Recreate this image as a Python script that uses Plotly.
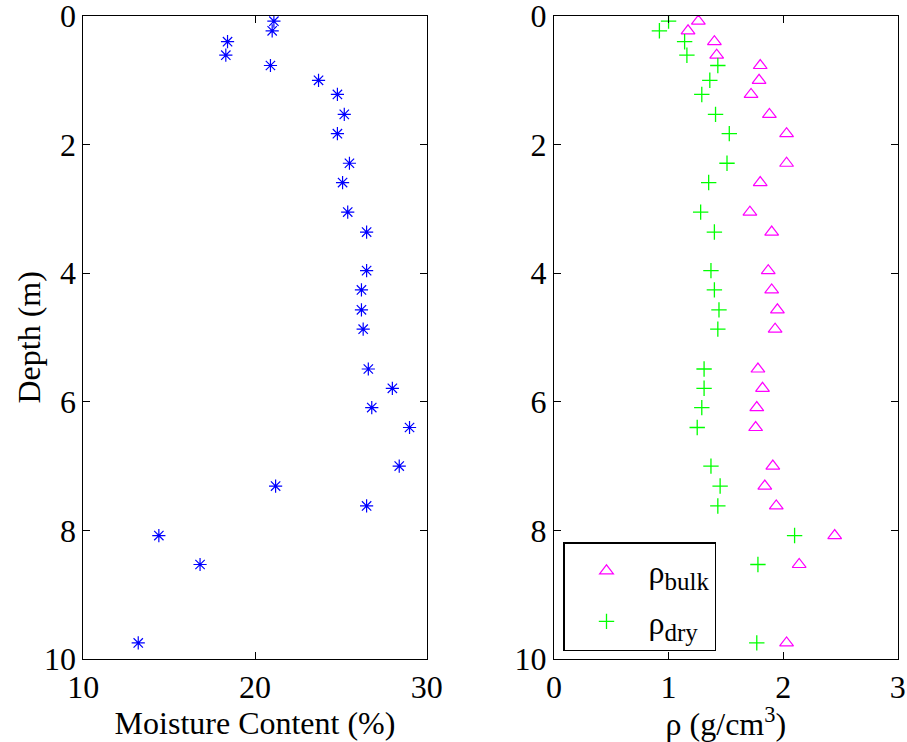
import plotly.graph_objects as go

# Sample depths (m)
depth = [0.08, 0.23, 0.40, 0.61, 0.77, 1.00, 1.22, 1.53, 1.83, 2.29, 2.59, 3.05,
         3.36, 3.96, 4.26, 4.57, 4.87, 5.49, 5.79, 6.09, 6.40, 7.00, 7.31, 7.62,
         8.08, 8.53, 9.75]

# Gravimetric moisture content (%)
moisture = [21.1, 21.0, 18.4, 18.3, 20.9, 23.7, 24.8, 25.2, 24.8, 25.5, 25.1, 25.4,
            26.5, 26.5, 26.2, 26.2, 26.3, 26.6, 28.0, 26.8, 29.0, 28.4, 21.2, 26.5,
            14.4, 16.8, 13.2]

# Bulk and dry densities (g/cm^3)
rho_bulk = [1.26, 1.17, 1.40, 1.42, 1.80, 1.79, 1.72, 1.88, 2.03, 2.03, 1.80, 1.71,
            1.90, 1.87, 1.90, 1.95, 1.93, 1.78, 1.82, 1.77, 1.76, 1.91, 1.84, 1.94,
            2.45, 2.14, 2.03]
rho_dry = [1.00, 0.92, 1.14, 1.16, 1.43, 1.36, 1.29, 1.41, 1.53, 1.51, 1.35, 1.28,
           1.40, 1.37, 1.40, 1.44, 1.43, 1.31, 1.31, 1.29, 1.25, 1.37, 1.45, 1.43,
           2.10, 1.78, 1.77]

FONT = "Liberation Serif"
FS = 32
SUB = "<sub><span style='font-size:25px'>{}</span></sub>"

fig = go.Figure()

fig.add_trace(go.Scatter(
    x=moisture, y=depth, mode="markers", showlegend=False,
    marker=dict(symbol="asterisk-open", size=11, color="#0000ff",
                line=dict(color="#0000ff", width=1.2)),
    xaxis="x", yaxis="y"))

fig.add_trace(go.Scatter(
    x=rho_bulk, y=depth, mode="markers", name="ρ" + SUB.format("bulk"),
    legendgroup="bulk",
    marker=dict(symbol="triangle-up-open", size=12, color="#ff00ff",
                line=dict(color="#ff00ff", width=1.2)),
    xaxis="x2", yaxis="y2"))

fig.add_trace(go.Scatter(
    x=rho_dry, y=depth, mode="markers", name="ρ" + SUB.format("dry"),
    legendgroup="dry",
    marker=dict(symbol="cross-thin-open", size=11, color="#00ff00",
                line=dict(color="#00ff00", width=1.3)),
    xaxis="x2", yaxis="y2"))

W, H = 907, 742
ydom = [1 - 659 / H, 1 - 16 / H]

axis_common = dict(
    showgrid=False, zeroline=False, showline=True, linecolor="black", linewidth=1,
    mirror="ticks", ticks="inside", ticklen=7, tickcolor="black", tickwidth=1,
    tickfont=dict(family=FONT, size=FS, color="black"), automargin=False,
    ticklabeloverflow="allow",
)

fig.update_layout(
    width=W, height=H, autosize=False,
    margin=dict(l=0, r=0, t=0, b=0, autoexpand=False),
    paper_bgcolor="white", plot_bgcolor="white",
    font=dict(family=FONT, size=FS, color="black"),
    xaxis=dict(domain=[83.3 / W, 426.7 / W], range=[10, 30], tickvals=[10, 20, 30],
               anchor="y",
               title=dict(text="Moisture Content (%)", font=dict(family=FONT, size=FS),
                          standoff=4),
               **axis_common),
    yaxis=dict(domain=ydom, range=[10, 0], tickvals=[0, 2, 4, 6, 8, 10], anchor="x",
               **axis_common),
    xaxis2=dict(domain=[554 / W, 897.7 / W], range=[0, 3], tickvals=[0, 1, 2, 3],
                anchor="y2",
                title=dict(text="ρ (g/cm<sup>3</sup>)", font=dict(family=FONT, size=FS),
                           standoff=4),
                **axis_common),
    yaxis2=dict(domain=ydom, range=[10, 0], tickvals=[0, 2, 4, 6, 8, 10], anchor="x2",
                **axis_common),
    legend=dict(x=563 / W, y=1 - 542 / H, xanchor="left", yanchor="top",
                bgcolor="white", bordercolor="black", borderwidth=1.5,
                font=dict(family=FONT, size=FS), itemwidth=74,
                traceorder="grouped", tracegroupgap=6),
    annotations=[dict(text="Depth (m)", textangle=-90, showarrow=False,
                      xref="paper", yref="paper", x=28 / W, y=(ydom[0] + ydom[1]) / 2,
                      xanchor="center", yanchor="middle",
                      font=dict(family=FONT, size=FS, color="black"))],
)

fig.write_html("out.html")
